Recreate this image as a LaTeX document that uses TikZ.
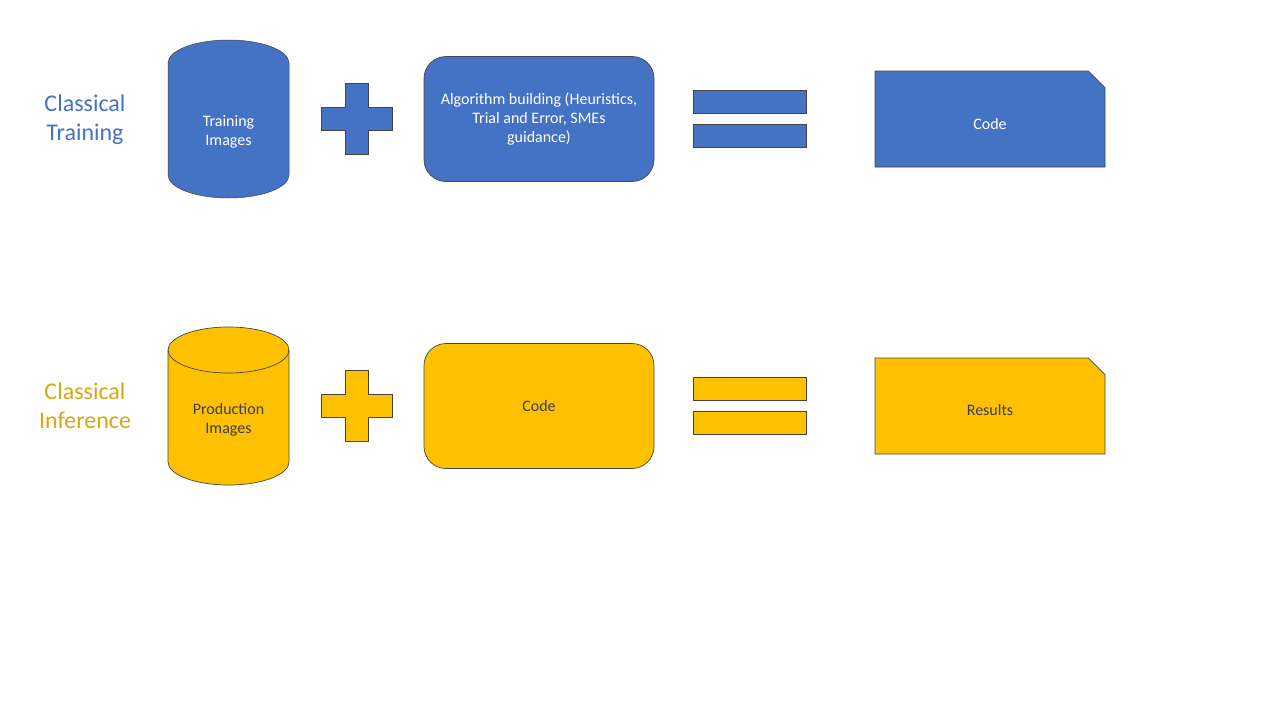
\documentclass[tikz,border=0pt]{standalone}
\usepackage{fontspec}
\setmainfont{Carlito}
\usetikzlibrary{positioning,shapes.misc}
\definecolor{trainblue}{HTML}{4472C4}
\definecolor{infergold}{HTML}{FFC000}
\definecolor{shapeedge}{HTML}{454545}
\definecolor{infertext}{HTML}{3C3F4C}
\definecolor{inferlabel}{HTML}{D8A812}
\tikzset{
  rowlabel/.style={align=center, font=\fontsize{24}{29}\selectfont},
  dbslot/.style={rectangle, minimum width=121pt, minimum height=158pt, inner sep=0pt, outer sep=0pt},
  dbtext/.style={align=center, font=\fontsize{16}{19}\selectfont},
  plusslot/.style={rectangle, minimum width=71pt, minimum height=71pt, inner sep=0pt, outer sep=0pt},
  stepbox/.style={rectangle, rounded corners=22pt, minimum width=230pt, minimum height=125pt, inner sep=0pt, outer sep=0pt, align=center, font=\fontsize{16}{19}\selectfont},
  eqslot/.style={rectangle, minimum width=113pt, minimum height=57pt, inner sep=0pt, outer sep=0pt},
  eqbar/.style={rectangle, minimum width=113pt, minimum height=23pt, inner sep=0pt, outer sep=0pt},
  docbox/.style={chamfered rectangle, chamfered rectangle corners=north east, chamfered rectangle xsep=11pt, chamfered rectangle ysep=11pt, minimum width=230pt, minimum height=96pt, inner sep=0pt, outer sep=0pt, align=center, font=\fontsize{16}{19}\selectfont},
  trainstyle/.style={fill=trainblue, draw=shapeedge, line width=0.7pt, text=white},
  inferstyle/.style={fill=infergold, draw=shapeedge, line width=0.7pt, text=infertext},
  rim/.style={x radius=60.5pt, y radius=23pt}
}

\begin{document}
\begin{tikzpicture}[x=1pt, y=-1pt]
  \useasboundingbox[fill=white] (0,0) rectangle (1280,720);

  % classical training row
  \node[rowlabel, text=trainblue] (lblT) at (85,120) {Classical\\Training};
  \node[dbslot] (dbT) at (228.5,119) {};
  \draw[trainstyle, line width=0.5pt, shift={(dbT.center)}] (-60.5,-56) -- (-60.5,56) arc[start angle=180, end angle=360, rim] -- (60.5,-56) arc[start angle=0, end angle=180, rim] -- cycle;
  \node[dbtext, text=white] (dbTtext) at ([yshift=-12.5pt]dbT.center) {Training\\Images};
  \node[plusslot, right=32pt of dbT] (plT) {};
  \draw[trainstyle, shift={(plT.center)}] (-11.5,-35.5) -- (11.5,-35.5) -- (11.5,-11.5) -- (35.5,-11.5) -- (35.5,11.5) -- (11.5,11.5) -- (11.5,35.5) -- (-11.5,35.5) -- (-11.5,11.5) -- (-35.5,11.5) -- (-35.5,-11.5) -- (-11.5,-11.5) -- cycle;
  \node[stepbox, trainstyle, right=32pt of plT] (algT) {Algorithm building (Heuristics,\\Trial and Error, SMEs\\guidance)};
  \node[eqslot, right=39pt of algT] (eqT) {};
  \node[eqbar, trainstyle, anchor=north] (eqTa) at (eqT.north) {};
  \node[eqbar, trainstyle, anchor=south] (eqTb) at (eqT.south) {};
  \node[docbox, trainstyle, right=69pt of eqT] (outT) {\raisebox{-5pt}[\height][\depth]{Code}};

  % classical inference row
  \node[rowlabel, text=inferlabel] (lblI) at (85,406) {Classical\\Inference};
  \node[dbslot] (dbI) at (228.5,406) {};
  \draw[inferstyle, shift={(dbI.center)}] (-60.5,-56) -- (-60.5,56) arc[start angle=180, end angle=360, rim] -- (60.5,-56) arc[start angle=0, end angle=180, rim] -- cycle;
  \draw[inferstyle, fill=none, shift={(dbI.center)}] (-60.5,-56) arc[start angle=180, end angle=360, rim];
  \node[dbtext, text=infertext] (dbItext) at ([yshift=-13.5pt]dbI.center) {Production\\Images};
  \node[plusslot, right=32pt of dbI] (plI) {};
  \draw[inferstyle, shift={(plI.center)}] (-11.5,-35.5) -- (11.5,-35.5) -- (11.5,-11.5) -- (35.5,-11.5) -- (35.5,11.5) -- (11.5,11.5) -- (11.5,35.5) -- (-11.5,35.5) -- (-11.5,11.5) -- (-35.5,11.5) -- (-35.5,-11.5) -- (-11.5,-11.5) -- cycle;
  \node[stepbox, inferstyle, right=32pt of plI] (algI) {Code};
  \node[eqslot, right=39pt of algI] (eqI) {};
  \node[eqbar, inferstyle, anchor=north] (eqIa) at (eqI.north) {};
  \node[eqbar, inferstyle, anchor=south] (eqIb) at (eqI.south) {};
  \node[docbox, inferstyle, right=69pt of eqI] (outI) {\raisebox{-4pt}[\height][\depth]{Results}};
\end{tikzpicture}
\end{document}
